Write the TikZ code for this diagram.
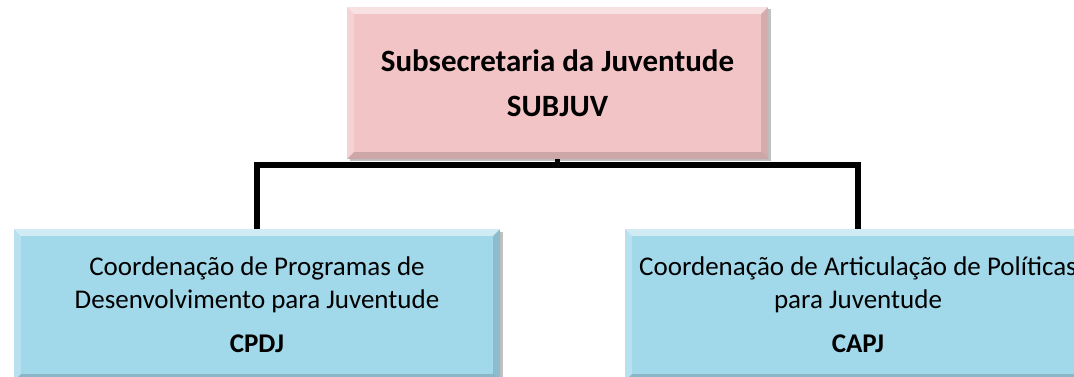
\documentclass[tikz,border=0pt]{standalone}
\usepackage{fontspec}
\setmainfont{Carlito}
\usetikzlibrary{calc,shadows}
\definecolor{pinkfill}{RGB}{242,196,197}
\definecolor{bluefill}{RGB}{161,216,234}
\tikzset{
  orgbox/.style={minimum height=152pt, inner sep=0pt, align=center,
    font=\fontsize{27}{33}\selectfont,
    drop shadow={shadow xshift=2.5pt, shadow yshift=-2.5pt, opacity=0.35, fill=black!70}},
  pinkbox/.style={orgbox, fill=pinkfill, minimum width=421pt, font=\fontsize{31}{38}\selectfont\bfseries},
  bluebox/.style={orgbox, fill=bluefill},
  link/.style={line width=5.5pt, black, line join=miter}
}
\newcommand\bevelbox[1]{%
  \fill[white, opacity=0.5] (#1.north west) -- (#1.north east) -- ($(#1.north east)+(-7,7)$) -- ($(#1.north west)+(7,7)$) -- cycle;
  \fill[white, opacity=0.25] (#1.north west) -- (#1.south west) -- ($(#1.south west)+(7,-7)$) -- ($(#1.north west)+(7,7)$) -- cycle;
  \fill[black, opacity=0.12] (#1.north east) -- (#1.south east) -- ($(#1.south east)+(-7,-7)$) -- ($(#1.north east)+(-7,7)$) -- cycle;
  \fill[black, opacity=0.15] (#1.south west) -- (#1.south east) -- ($(#1.south east)+(-7,-7)$) -- ($(#1.south west)+(7,-7)$) -- cycle;
}
\begin{document}
\begin{tikzpicture}[x=1pt,y=-1pt]
\useasboundingbox (0,0) rectangle (1074,377);
\clip (0,0) rectangle (1074,377);
\node[pinkbox] (top) at (557.5,83) {Subsecretaria da Juventude\\[7pt]SUBJUV};
\node[bluebox, minimum width=486pt] (left) at (257,305) {Coordenação de Programas de\\Desenvolvimento para Juventude\\[11pt]\textbf{CPDJ}};
\node[bluebox, minimum width=466pt] (right) at (858,305) {Coordenação de Articulação de Políticas\\para Juventude\\[11pt]\textbf{CAPJ}};
\bevelbox{top}
\bevelbox{left}
\bevelbox{right}
\coordinate (hl) at (557.5,165);
\draw[link] (top.south) -- (top.south |- hl);
\draw[link] (left.north) |- (hl) -| (right.north);
\end{tikzpicture}
\end{document}
